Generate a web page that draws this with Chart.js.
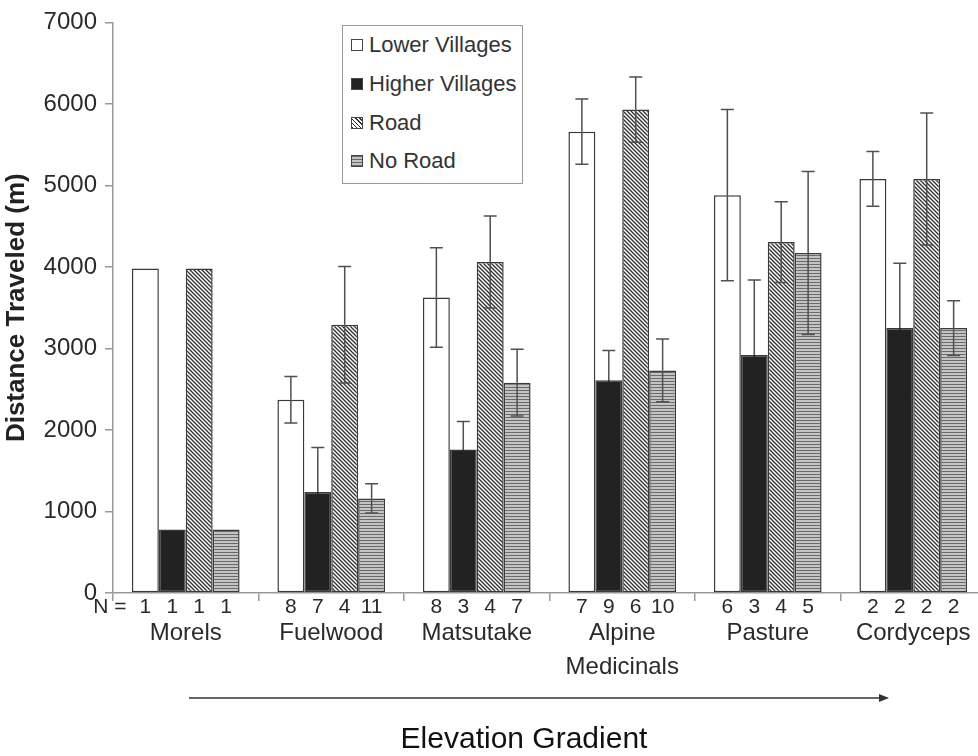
<!DOCTYPE html>
<html><head><meta charset="utf-8">
<script src="https://cdn.jsdelivr.net/npm/chart.js@4.4.1/dist/chart.umd.min.js"></script>
<style>
html,body{margin:0;padding:0;background:#fff;overflow:hidden;}
#wrap{position:relative;width:1000px;height:756px;}
#legend{position:absolute;left:342px;top:25px;width:179px;height:157px;border:1px solid #9a9a9a;background:#fff;font-family:"Liberation Sans",Arial,sans-serif;font-size:22px;color:#333;}
.item{position:absolute;left:8px;height:26px;display:flex;align-items:center;white-space:nowrap;}
.sw{width:12px;height:12px;border:1px solid #444;margin-right:6px;box-sizing:border-box;flex:none;}
</style></head><body>
<div id="wrap"><canvas id="c"></canvas><div id="legend"></div></div>
<script>
const categories = [['Morels'], ['Fuelwood'], ['Matsutake'], ['Alpine', 'Medicinals'], ['Pasture'], ['Cordyceps']];
const seriesNames = ['Lower Villages', 'Higher Villages', 'Road', 'No Road'];
const lowerVillages = [3980, 2370, 3625, 5660, 4880, 5080];
const higherVillages = [780, 1240, 1760, 2610, 2920, 3250];
const road = [3980, 3290, 4060, 5930, 4305, 5080];
const noRoad = [780, 1160, 2580, 2730, 4170, 3250];
const lowerErr = [0, 285, 610, 400, 1050, 335];
const higherErr = [0, 545, 345, 365, 920, 795];
const roadErr = [0, 715, 565, 400, 495, 810];
const noRoadErr = [0, 180, 410, 385, 1000, 335];
const lowerN = [1, 8, 8, 7, 6, 2];
const higherN = [1, 7, 3, 9, 3, 2];
const roadN = [1, 4, 4, 6, 4, 2];
const noRoadN = [1, 11, 7, 10, 5, 2];
const yMin = 0, yMax = 7000, yStep = 1000;
const yTitle = 'Distance Traveled (m)';
const nLabel = 'N =';
const bottomTitle = 'Elevation Gradient';

const FONT = '"Liberation Sans", Arial, sans-serif';

function makeRoadPattern() {
  const c = document.createElement('canvas');
  c.width = 4; c.height = 4;
  const g = c.getContext('2d');
  g.fillStyle = '#ffffff'; g.fillRect(0, 0, 4, 4);
  g.strokeStyle = '#2e2e2e'; g.lineWidth = 1.3;
  g.beginPath();
  g.moveTo(-1, -1); g.lineTo(5, 5);
  g.moveTo(-1, 3); g.lineTo(1, 5);
  g.moveTo(3, -1); g.lineTo(5, 1);
  g.stroke();
  return g.createPattern(c, 'repeat');
}
function makeNoRoadPattern() {
  const c = document.createElement('canvas');
  c.width = 3; c.height = 3;
  const g = c.getContext('2d');
  g.fillStyle = '#c4c4c4'; g.fillRect(0, 0, 3, 3);
  g.fillStyle = '#6a6a6a'; g.fillRect(0, 0, 3, 1);
  return g.createPattern(c, 'repeat');
}

const seriesValues = [lowerVillages, higherVillages, road, noRoad];
const seriesErr = [lowerErr, higherErr, roadErr, noRoadErr];
const seriesN = [lowerN, higherN, roadN, noRoadN];
const fills = ['#ffffff', '#222222', makeRoadPattern(), makeNoRoadPattern()];
const innerErrColor = ['#505050', '#222222', '#505050', '#505050'];
const swatchCss = [
  '#ffffff',
  '#222222',
  'repeating-linear-gradient(45deg, #2e2e2e 0 1px, #ffffff 1px 3px)',
  'repeating-linear-gradient(180deg, #6a6a6a 0 1px, #c4c4c4 1px 3px)'
];

// HTML legend
const legend = document.getElementById('legend');
const rowTops = [6, 45, 84, 122];
seriesNames.forEach((n, i) => {
  const it = document.createElement('div');
  it.className = 'item';
  it.style.top = rowTops[i] + 'px';
  const sw = document.createElement('span');
  sw.className = 'sw';
  sw.style.background = swatchCss[i];
  it.appendChild(sw);
  const t = document.createElement('span');
  t.textContent = n;
  it.appendChild(t);
  legend.appendChild(it);
});

const extras = {
  id: 'extras',
  afterDatasetsDraw(chart) {
    const ctx = chart.ctx;
    const ys = chart.scales.y;
    ctx.save();
    ctx.lineWidth = 1.5;
    seriesValues.forEach((vals, i) => {
      const meta = chart.getDatasetMeta(i);
      meta.data.forEach((bar, j) => {
        const e = seriesErr[i][j];
        if (!e) return;
        const yt = ys.getPixelForValue(vals[j] + e);
        const ym = ys.getPixelForValue(vals[j]);
        const yb = ys.getPixelForValue(vals[j] - e);
        const x = bar.x, cw = 6.5;
        ctx.strokeStyle = '#505050';
        ctx.beginPath();
        ctx.moveTo(x, yt); ctx.lineTo(x, ym);
        ctx.moveTo(x - cw, yt); ctx.lineTo(x + cw, yt);
        ctx.stroke();
        ctx.strokeStyle = innerErrColor[i];
        ctx.beginPath();
        ctx.moveTo(x, ym); ctx.lineTo(x, yb);
        ctx.moveTo(x - cw, yb); ctx.lineTo(x + cw, yb);
        ctx.stroke();
      });
    });
    ctx.restore();
  },
  afterDraw(chart) {
    const ctx = chart.ctx;
    const ca = chart.chartArea;
    ctx.save();
    ctx.fillStyle = '#2a2a2a';
    ctx.font = '21px ' + FONT;
    ctx.textAlign = 'center';
    ctx.textBaseline = 'middle';
    const ny = ca.bottom + 14;
    seriesN.forEach((ns, i) => {
      const meta = chart.getDatasetMeta(i);
      meta.data.forEach((bar, j) => {
        ctx.fillText(String(ns[j]), bar.x, ny);
      });
    });
    ctx.fillText(nLabel, ca.left - 3, ny);
    // arrow
    const ay = ca.bottom + 105;
    const ax0 = 189, ax1 = 889;
    ctx.strokeStyle = '#333';
    ctx.lineWidth = 1.5;
    ctx.beginPath(); ctx.moveTo(ax0, ay); ctx.lineTo(ax1 - 6, ay); ctx.stroke();
    ctx.fillStyle = '#333';
    ctx.beginPath(); ctx.moveTo(ax1, ay); ctx.lineTo(ax1 - 10, ay - 4); ctx.lineTo(ax1 - 10, ay + 4); ctx.closePath(); ctx.fill();
    ctx.fillStyle = '#111';
    ctx.font = '30px ' + FONT;
    ctx.fillText(bottomTitle, 524, ca.bottom + 147);
    ctx.restore();
  }
};

new Chart(document.getElementById('c'), {
  type: 'bar',
  data: {
    labels: categories,
    datasets: seriesNames.map((n, i) => ({
      label: n,
      data: seriesValues[i],
      backgroundColor: fills[i],
      borderColor: '#3a3a3a',
      borderWidth: 1.5,
      borderSkipped: false,
      categoryPercentage: 0.74,
      barPercentage: 1.0
    }))
  },
  options: {
    responsive: true,
    maintainAspectRatio: false,
    animation: false,
    layout: { padding: { top: 18, right: 14, left: 0, bottom: 0 } },
    plugins: { legend: { display: false }, tooltip: { enabled: false } },
    scales: {
      x: {
        grid: { drawOnChartArea: false, offset: true, tickLength: 8, color: '#999', lineWidth: 1.5 },
        border: { color: '#999', width: 1.5 },
        ticks: { color: '#2a2a2a', font: { family: FONT, size: 24, lineHeight: 1.4 }, padding: 16, maxRotation: 0, autoSkip: false },
        afterFit(s) { s.height = 163; }
      },
      y: {
        min: yMin, max: yMax,
        grid: { drawOnChartArea: false, tickLength: 8, color: '#999', lineWidth: 1.5 },
        border: { color: '#999', width: 1.5 },
        ticks: { stepSize: yStep, color: '#2a2a2a', font: { family: FONT, size: 24 }, padding: 8, callback: v => String(v) },
        title: { display: true, text: yTitle, color: '#222', font: { family: FONT, size: 26, weight: 'bold' }, padding: { top: 1, bottom: 0 } },
        afterFit(s) { s.width = 113; }
      }
    }
  },
  plugins: [extras]
});
</script>
</body></html>
